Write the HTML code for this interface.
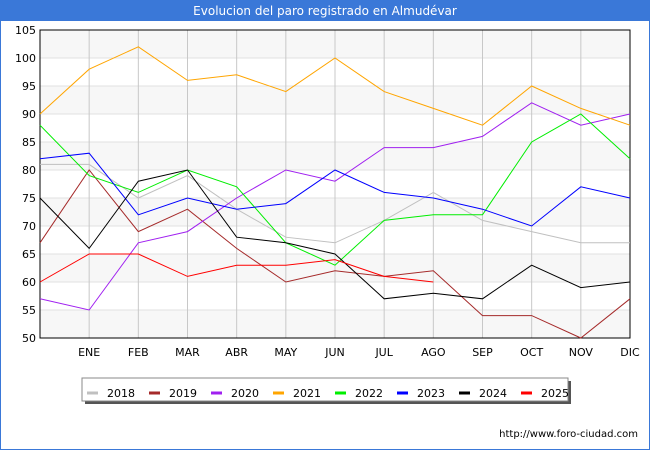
<!DOCTYPE html>
<html><head><meta charset="utf-8"><style>
body{margin:0;width:650px;height:450px;overflow:hidden;background:#fff;font-family:"DejaVu Sans","Liberation Sans",sans-serif}
#frame{position:absolute;left:0;top:0;width:648px;height:448px;border:1px solid #3a78d8}
</style></head><body>
<div id="frame"></div>
<svg id="chart" width="650" height="450" style="position:absolute;left:0;top:0">
<rect x="0" y="0" width="650" height="21" fill="#3a78d8"/>
<text x="325" y="15" text-anchor="middle" font-size="12" fill="#fff">Evolucion del paro registrado en Almudévar</text>
<g id="plot"></g>
<text x="638" y="437" text-anchor="end" font-size="10" fill="#000">http://www.foro-ciudad.com</text>
</svg>
<script>
const months=["","ENE","FEB","MAR","ABR","MAY","JUN","JUL","AGO","SEP","OCT","NOV","DIC"];
const yTicks=[50,55,60,65,70,75,80,85,90,95,100,105];
const years=["2018","2019","2020","2021","2022","2023","2024","2025"];
const colors=["#c0c0c0","#a52a2a","#a020f0","#ffa500","#00ee00","#0000ff","#000000","#ff0000"];
const s2018=[81,81,75,79,73,68,67,71,76,71,69,67,67];
const s2019=[67,80,69,73,66,60,62,61,62,54,54,50,57];
const s2020=[57,55,67,69,75,80,78,84,84,86,92,88,90];
const s2021=[90,98,102,96,97,94,100,94,91,88,95,91,88];
const s2022=[88,79,76,80,77,67,63,71,72,72,85,90,82];
const s2023=[82,83,72,75,73,74,80,76,75,73,70,77,75];
const s2024=[75,66,78,80,68,67,65,57,58,57,63,59,60];
const s2025=[60,65,65,61,63,63,64,61,60];
const series=[s2018,s2019,s2020,s2021,s2022,s2023,s2024,s2025];
const X0=40,X1=630,Y0=338,Y1=30,VMIN=50,VMAX=105;
const xs=i=>X0+(X1-X0)*i/(months.length-1);
const ys=v=>Y0-(v-VMIN)*(Y0-Y1)/(VMAX-VMIN);
const NS="http://www.w3.org/2000/svg";
const g=document.getElementById("plot");
function mk(t,a){const e=document.createElementNS(NS,t);for(const k in a)e.setAttribute(k,a[k]);g.appendChild(e);return e;}
for(let i=0;i<yTicks.length-1;i++){
 if(i%2==0){const r=mk("rect",{x:X0,y:ys(yTicks[i+1]),width:X1-X0,height:ys(yTicks[i])-ys(yTicks[i+1]),fill:"#f7f7f7"});
 
 }
}
yTicks.forEach(v=>{
 const l=mk("line",{x1:X0,x2:X1,y1:ys(v),y2:ys(v),stroke:"#e0e0e0","stroke-width":1});
 
 
 const t=mk("text",{x:X0-4,y:ys(v)+4,"text-anchor":"end","font-size":11,fill:"#000"});
 t.textContent=v;
 
 
});
months.forEach((m,i)=>{
 if(i==0)return;
 const l=mk("line",{x1:xs(i),x2:xs(i),y1:Y1,y2:Y0,stroke:"#c8c8c8","stroke-width":1});
 
 
 const t=mk("text",{x:xs(i),y:Y0+18,"text-anchor":"middle","font-size":11,fill:"#000"});
 t.textContent=m;
 
 
});
const ax=mk("rect",{x:X0,y:Y1,width:X1-X0,height:Y0-Y1,fill:"none",stroke:"#000","stroke-width":1});


series.forEach((s,k)=>{
 const p=mk("polyline",{points:s.map((v,i)=>xs(i)+","+ys(v)).join(" "),fill:"none",stroke:colors[k],"stroke-width":1});
 
 
});
const sh=mk("rect",{x:85,y:381,width:486,height:23,fill:"#555"});


const lb=mk("rect",{x:82,y:378,width:486,height:23,fill:"#fff",stroke:"#888","stroke-width":1});


years.forEach((y,k)=>{
 const x=87+k*62;
 const sw=mk("line",{x1:x,x2:x+11,y1:393,y2:393,stroke:colors[k],"stroke-width":3});
 
 
 const t=mk("text",{x:x+20,y:397,"font-size":11,fill:"#000"});
 t.textContent=y;
 
 
});
</script>
</body></html>
